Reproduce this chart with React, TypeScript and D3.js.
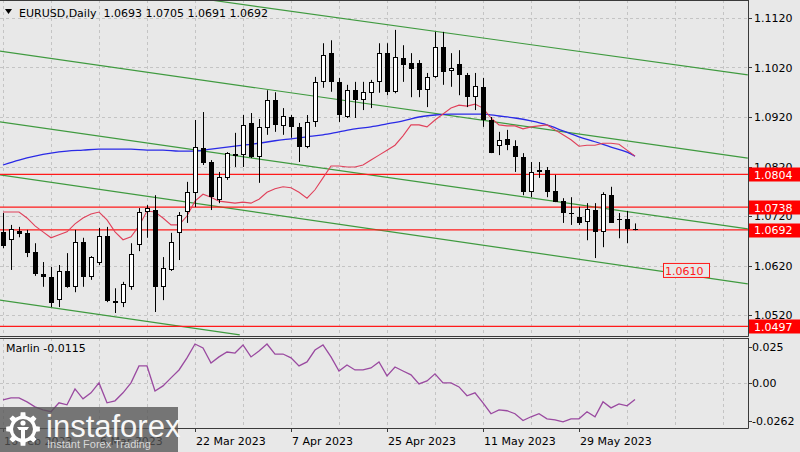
import React from 'react';
import * as d3 from 'd3';

// ---- data ----
const opens = [1.0688,1.0672,1.0690,1.0686,1.0647,1.0603,1.0597,1.0550,1.0609,1.0577,1.0667,1.0597,1.0625,1.0680,1.0548,1.0544,1.0577,1.0661,1.0728,1.0732,1.0577,1.0611,1.0686,1.0728,1.0766,1.0857,1.0829,1.0752,1.0797,1.0845,1.0843,1.0908,1.0839,1.0898,1.0954,1.0902,1.0920,1.0900,1.0859,1.0910,1.0991,1.1049,1.0991,1.0920,1.0974,1.0954,1.0969,1.0991,1.1049,1.0970,1.1039,1.1029,1.1029,1.0975,1.1001,1.1061,1.1013,1.1027,1.1005,1.0960,1.0981,1.0914,1.0861,1.0876,1.0861,1.0839,1.0769,1.0809,1.0813,1.0771,1.0750,1.0726,1.0718,1.0708,1.0732,1.0688,1.0762,1.0714,1.0714,1.0693];
const highs = [1.0726,1.0702,1.0698,1.0692,1.0665,1.0627,1.0617,1.0621,1.0645,1.0692,1.0676,1.0639,1.0696,1.0698,1.0574,1.0587,1.0665,1.0736,1.0742,1.0762,1.0637,1.0686,1.0728,1.0789,1.0914,1.0930,1.0833,1.0809,1.0849,1.0888,1.0924,1.0928,1.0916,1.0974,1.0970,1.0938,1.0924,1.0908,1.0924,1.1001,1.1069,1.1075,1.0999,1.0985,1.0991,1.0991,1.0995,1.1069,1.1069,1.1096,1.1065,1.1049,1.1035,1.1009,1.1092,1.1092,1.1049,1.1055,1.1009,1.1009,1.0999,1.0920,1.0890,1.0894,1.0873,1.0847,1.0829,1.0829,1.0819,1.0803,1.0756,1.0758,1.0738,1.0746,1.0746,1.0768,1.0779,1.0726,1.0730,1.0705];
const lows = [1.0655,1.0611,1.0677,1.0637,1.0599,1.0577,1.0536,1.0536,1.0575,1.0566,1.0577,1.0591,1.0621,1.0546,1.0524,1.0536,1.0571,1.0649,1.0676,1.0526,1.0550,1.0609,1.0631,1.0706,1.0738,1.0823,1.0732,1.0746,1.0793,1.0819,1.0819,1.0837,1.0787,1.0884,1.0890,1.0884,1.0878,1.0829,1.0857,1.0900,1.0979,1.0971,1.0910,1.0918,1.0918,1.0934,1.0938,1.0969,1.0964,1.0968,1.0991,1.0960,1.0960,1.0940,1.0999,1.0985,1.0981,1.0964,1.0940,1.0934,1.0900,1.0847,1.0843,1.0853,1.0809,1.0762,1.0758,1.0797,1.0758,1.0748,1.0706,1.0702,1.0702,1.0671,1.0635,1.0657,1.0706,1.0675,1.0665,1.0691];
const closes = [1.0660,1.0694,1.0683,1.0645,1.0603,1.0597,1.0544,1.0609,1.0577,1.0667,1.0597,1.0637,1.0680,1.0548,1.0544,1.0583,1.0643,1.0728,1.0736,1.0577,1.0615,1.0667,1.0722,1.0769,1.0859,1.0827,1.0758,1.0799,1.0847,1.0841,1.0904,1.0839,1.0900,1.0954,1.0904,1.0922,1.0900,1.0859,1.0910,1.0991,1.1045,1.0991,1.0924,1.0974,1.0954,1.0970,1.0991,1.1049,1.0970,1.1041,1.1025,1.1017,1.0975,1.1001,1.1061,1.1011,1.1019,1.1005,1.0960,1.0983,1.0914,1.0847,1.0873,1.0863,1.0839,1.0769,1.0809,1.0813,1.0769,1.0748,1.0726,1.0724,1.0706,1.0734,1.0687,1.0764,1.0706,1.0712,1.0693,1.0692];

const maFast = [1.0728,1.0728,1.0728,1.0716,1.0700,1.0688,1.0676,1.0682,1.0688,1.0704,1.0716,1.0724,1.0728,1.0712,1.0688,1.0672,1.0678,1.0700,1.0730,1.0728,1.0716,1.0702,1.0702,1.0720,1.0750,1.0764,1.0758,1.0750,1.0748,1.0746,1.0748,1.0746,1.0754,1.0768,1.0775,1.0779,1.0777,1.0768,1.0756,1.0773,1.0797,1.0821,1.0821,1.0819,1.0819,1.0823,1.0833,1.0843,1.0853,1.0863,1.0882,1.0904,1.0904,1.0900,1.0914,1.0926,1.0938,1.0944,1.0942,1.0946,1.0938,1.0918,1.0904,1.0902,1.0902,1.0896,1.0900,1.0902,1.0904,1.0894,1.0884,1.0874,1.0861,1.0863,1.0863,1.0867,1.0867,1.0865,1.0853,1.0841];
const maSlowIdx = [0,2,4,6,8,10,12,14,16,18,20,22,24,26,28,30,32,34,36,38,40,42,44,46,48,50,52,54,56,58,60,62,64,66,68,70,72,74,76,78,79];
const maSlow = [1.0823,1.0833,1.0841,1.0847,1.0851,1.0853,1.0855,1.0855,1.0855,1.0853,1.0853,1.0851,1.0851,1.0855,1.0859,1.0863,1.0867,1.0872,1.0876,1.0880,1.0884,1.0890,1.0896,1.0900,1.0906,1.0912,1.0920,1.0924,1.0926,1.0926,1.0926,1.0922,1.0918,1.0912,1.0904,1.0892,1.0880,1.0870,1.0859,1.0849,1.0841];

const marlin = [-0.0118,-0.0104,-0.0104,-0.0132,-0.0167,-0.0188,-0.0201,-0.0139,-0.0153,-0.0042,-0.0111,-0.0069,0.0000,-0.0139,-0.0125,-0.0069,0.0000,0.0118,0.0118,-0.0056,-0.0021,0.0035,0.0090,0.0174,0.0271,0.0243,0.0139,0.0181,0.0215,0.0208,0.0264,0.0181,0.0222,0.0271,0.0201,0.0201,0.0174,0.0118,0.0146,0.0229,0.0264,0.0181,0.0083,0.0125,0.0090,0.0090,0.0104,0.0146,0.0049,0.0111,0.0083,0.0056,-0.0007,0.0014,0.0063,0.0000,0.0000,-0.0028,-0.0090,-0.0069,-0.0139,-0.0215,-0.0188,-0.0194,-0.0215,-0.0262,-0.0236,-0.0215,-0.0250,-0.0257,-0.0271,-0.0250,-0.0250,-0.0201,-0.0236,-0.0132,-0.0174,-0.0146,-0.0160,-0.0115];

const priceTicks = [1.1120,1.1020,1.0920,1.0820,1.0720,1.0620,1.0520];
const levels = [1.0804,1.0738,1.0692,1.0497];
const targetPrice = 1.0610;
const marlinTicks = [0.025,0.0,-0.0262];
const marlinTickLabels = ['0.025','0.00','-0.0262'];
const dateTickIdx = [0,12,24,36,48,60,72];
const dateTickLabels = ['16 Feb 2023','6 Mar 2023','22 Mar 2023','7 Apr 2023','25 Apr 2023','11 May 2023','29 May 2023'];

const trendI1 = [26.1,-0.4,-0.4,-0.4,-0.4];
const trendP1 = [1.1156,1.1053,1.0910,1.0803,1.0550];
const trendI2 = [93.1,93.1,93.1,93.1,29.6];
const trendP2 = [1.1005,1.0837,1.0694,1.0583,1.0480];

const header = 'EURUSD,Daily  1.0693 1.0705 1.0691 1.0692';

export default function App() {
  const W = 800, H = 452;
  const plotR = 748;
  const mainTop = 0, mainBot = 336;
  const indTop = 338, indBot = 428;
  const font = '"DejaVu Sans", Verdana, sans-serif';
  const bg = '#e8e8e8';

  const x = d3.scaleLinear().domain([0, 79]).range([3, 635]);
  const y = d3.scaleLinear().domain([1.0520, 1.1120]).range([315, 18]);
  const yi = d3.scaleLinear().domain([-0.0262, 0.025]).range([420.5, 347]);

  const crisp = (v: number) => Math.round(v) + 0.5;

  const fastLine = d3.line<number>().x((_, i) => x(i)).y(d => y(d));
  const slowLine = d3.line<number>().x((_, i) => x(maSlowIdx[i])).y(d => y(d)).curve(d3.curveMonotoneX);
  const marlinLine = d3.line<number>().x((_, i) => x(i)).y(d => yi(d));

  const gridX = d3.range(0, 120, 6).map(i => x(i)).filter(v => v < plotR);

  // gear path for logo
  const gear = (() => {
    const cx = 23, cy = 429, rO = 17, rI = 13.5, n = 8;
    const pts: [number, number][] = [];
    for (let k = 0; k < n; k++) {
      const a0 = (k / n) * Math.PI * 2;
      const w = Math.PI / n;
      const seq: [number, number][] = [
        [rI, a0 - w * 0.5], [rO, a0 - w * 0.35], [rO, a0 + w * 0.35], [rI, a0 + w * 0.5],
      ];
      seq.forEach(([r, a]) => pts.push([cx + r * Math.cos(a), cy + r * Math.sin(a)]));
    }
    return 'M' + pts.map(p => p.join(',')).join('L') + 'Z';
  })();

  return (
    <svg width={W} height={H} style={{ position: 'absolute', left: 0, top: 0, background: bg }} fontFamily={font}>
      <defs>
        <clipPath id="mainClip"><rect x={0} y={mainTop} width={plotR} height={mainBot - mainTop} /></clipPath>
        <clipPath id="indClip"><rect x={0} y={indTop} width={plotR} height={indBot - indTop} /></clipPath>
      </defs>
      <rect x={0} y={0} width={W} height={H} fill={bg} />

      {/* grid main */}
      <g stroke="#c4c4c4" strokeDasharray="3,3" strokeWidth={1}>
        {gridX.map((gx, k) => (
          <line key={'gx' + k} x1={crisp(gx)} x2={crisp(gx)} y1={mainTop} y2={mainBot} />
        ))}
        {priceTicks.map((p, k) => (
          <line key={'gy' + k} x1={0} x2={plotR} y1={crisp(y(p))} y2={crisp(y(p))} />
        ))}
        {gridX.map((gx, k) => (
          <line key={'gxi' + k} x1={crisp(gx)} x2={crisp(gx)} y1={indTop} y2={indBot} />
        ))}
        <line x1={0} x2={plotR} y1={crisp(yi(0))} y2={crisp(yi(0))} />
      </g>

      <g clipPath="url(#mainClip)">
        {/* trend channel lines */}
        {trendI1.map((_, k) => (
          <line key={'tr' + k} x1={x(trendI1[k])} y1={y(trendP1[k])} x2={x(trendI2[k])} y2={y(trendP2[k])}
            stroke="#3f9a3f" strokeWidth={1.2} />
        ))}
        {/* horizontal levels */}
        {levels.map((lv, k) => (
          <line key={'lv' + k} x1={0} x2={plotR} y1={y(lv)} y2={y(lv)} stroke="#ff1a1a" strokeWidth={1.3} />
        ))}
        {/* moving averages */}
        <path d={slowLine(maSlow) || ''} fill="none" stroke="#2a2ae6" strokeWidth={1.3} />
        <path d={fastLine(maFast) || ''} fill="none" stroke="#e0405a" strokeWidth={1.1} />

        {/* candles */}
        {closes.map((c, i) => {
          const o = opens[i], hi = highs[i], lo = lows[i];
          const cx = Math.round(x(i));
          const top = Math.round(y(Math.max(o, c)));
          const bot = Math.round(y(Math.min(o, c)));
          const bull = c > o;
          const bh = Math.max(bot - top, 1);
          return (
            <g key={'c' + i}>
              <line x1={cx + 0.5} x2={cx + 0.5} y1={y(hi)} y2={y(lo)} stroke="#000" strokeWidth={1} />
              {bh <= 1 ? (
                <line x1={cx - 2} x2={cx + 3} y1={top + 0.5} y2={top + 0.5} stroke="#000" strokeWidth={1} />
              ) : bull ? (
                <rect x={cx - 1.5} y={top + 0.5} width={4} height={bh - 1} fill="#fff" stroke="#000" strokeWidth={1} />
              ) : (
                <rect x={cx - 2} y={top} width={5} height={bh} fill="#000" />
              )}
            </g>
          );
        })}
      </g>

      {/* target label */}
      <g>
        <rect x={663.5} y={y(targetPrice) - 7} width={46} height={14} fill={bg} stroke="#ff1a1a" strokeWidth={1} />
        <text x={665} y={y(targetPrice) + 4.5} fontSize={11} fill="#ff1a1a">{targetPrice.toFixed(4)}</text>
      </g>

      {/* indicator line */}
      <g clipPath="url(#indClip)">
        <path d={marlinLine(marlin) || ''} fill="none" stroke="#9a4aa0" strokeWidth={1.3} />
      </g>

      {/* frames */}
      <g stroke="#3a3a3a" strokeWidth={1} fill="none">
        <line x1={0} x2={plotR + 0.5} y1={0.5} y2={0.5} />
        <line x1={plotR + 0.5} x2={plotR + 0.5} y1={0} y2={mainBot + 0.5} />
        <line x1={0} x2={plotR + 0.5} y1={mainBot + 0.5} y2={mainBot + 0.5} />
        <line x1={0} x2={plotR + 0.5} y1={indTop + 0.5} y2={indTop + 0.5} />
        <line x1={plotR + 0.5} x2={plotR + 0.5} y1={indTop} y2={indBot + 0.5} />
        <line x1={0} x2={plotR + 0.5} y1={indBot + 0.5} y2={indBot + 0.5} />
      </g>

      {/* header */}
      <path d="M5,9 L12,9 L8.5,14 Z" fill="#000" />
      <text x={19} y={17} fontSize={11} fill="#000" xmlSpace="preserve">{header}</text>
      <text x={6} y={352} fontSize={11} fill="#000">Marlin -0.0115</text>

      {/* price axis */}
      {priceTicks.map((p, k) => (
        <g key={'pt' + k}>
          <line x1={plotR} x2={plotR + 4} y1={crisp(y(p))} y2={crisp(y(p))} stroke="#3a3a3a" />
          <text x={754} y={y(p) + 4} fontSize={11} fill="#000">{p.toFixed(4)}</text>
        </g>
      ))}
      {levels.map((lv, k) => (
        <g key={'lb' + k}>
          <rect x={749} y={Math.round(y(lv)) - 6.5} width={51} height={14} fill="#ff0000" />
          <text x={754} y={y(lv) + 4.5} fontSize={11} fill="#fff">{lv.toFixed(4)}</text>
        </g>
      ))}

      {/* indicator axis */}
      {marlinTicks.map((v, k) => (
        <g key={'mt' + k}>
          <line x1={plotR} x2={plotR + 4} y1={crisp(yi(v))} y2={crisp(yi(v))} stroke="#3a3a3a" />
          <text x={752} y={yi(v) + 4} fontSize={11} fill="#000">{marlinTickLabels[k]}</text>
        </g>
      ))}

      {/* date axis */}
      {dateTickIdx.map((di, k) => (
        <g key={'dt' + k}>
          <line x1={crisp(x(di))} x2={crisp(x(di))} y1={indBot} y2={indBot + 4} stroke="#3a3a3a" />
          <text x={Math.round(x(di)) + 1} y={445} fontSize={11} fill="#000">{dateTickLabels[k]}</text>
        </g>
      ))}

      {/* watermark logo */}
      <g>
        <rect x={0} y={407} width={178} height={45} fill="#555" opacity={0.78} />
        <path d={gear} fill="#fff" />
        <circle cx={23} cy={429} r={10} fill="#6a6a6a" />
        <circle cx={23} cy={423} r={2.6} fill="#fff" />
        <path d="M17,427 L29,427 L27,430 L25,430 L25,439 L21,439 L21,430 L19,430 Z" fill="#fff" />
        <text x={46} y={437} fontSize={31} fill="#fff" fontFamily='"Liberation Sans", Arial, sans-serif' opacity={0.95}>instaforex</text>
        <text x={47} y={448} fontSize={11} fill="#d8d8d8" fontFamily='"Liberation Sans", Arial, sans-serif'>Instant Forex Trading</text>
      </g>
    </svg>
  );
}
